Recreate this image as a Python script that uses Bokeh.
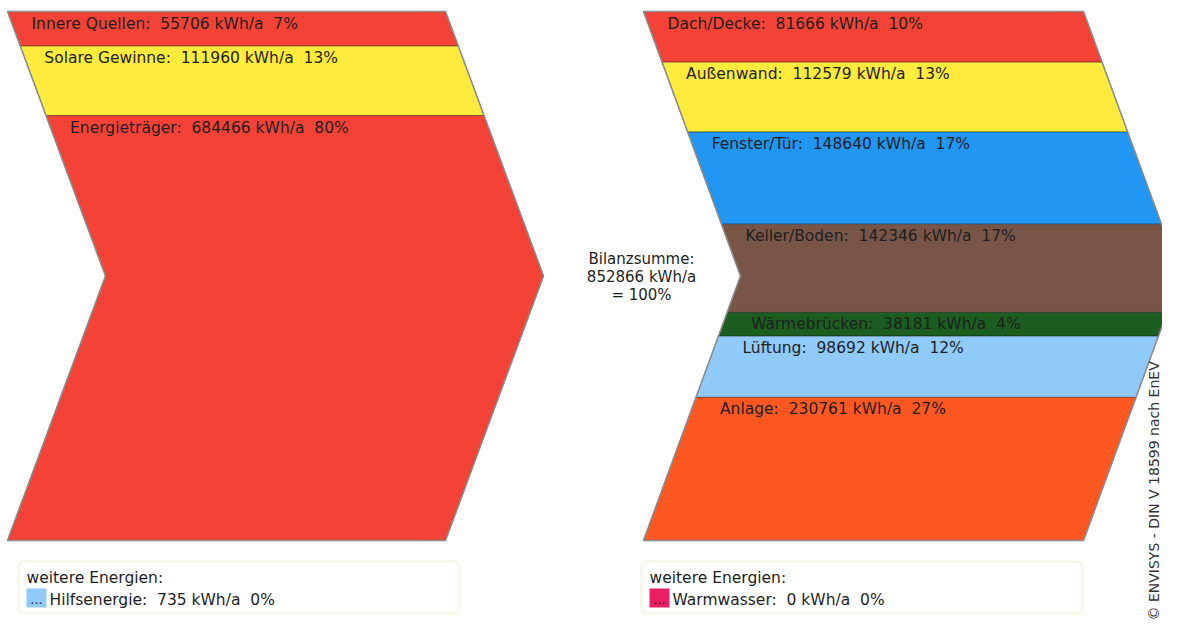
import math
from bokeh.plotting import figure
from bokeh.models import Range1d, BoxAnnotation
from bokeh.core.properties import value
from bokeh.embed import file_html
from bokeh.resources import INLINE

# ---------------- data ----------------
left_labels = ["Innere Quellen", "Solare Gewinne", "Energieträger"]
left_values = [55706, 111960, 684466]
left_pct = [7, 13, 80]
left_colors = ["#f44336", "#ffeb3b", "#f44336"]

right_labels = ["Dach/Decke", "Außenwand", "Fenster/Tür", "Keller/Boden",
                "Wärmebrücken", "Lüftung", "Anlage"]
right_values = [81666, 112579, 148640, 142346, 38181, 98692, 230761]
right_pct = [10, 13, 17, 17, 4, 12, 27]
right_colors = ["#f44336", "#ffeb3b", "#2196f3", "#795548",
                "#1b5e20", "#90caf9", "#ff5722"]

total_value = 852866
extra_left = ("Hilfsenergie", 735, 0, "#90caf9")
extra_right = ("Warmwasser", 0, 0, "#e91e63")
copyright_text = "© ENVISYS - DIN V 18599 nach EnEV"

# ---------------- layout (pixel-like coordinates) ----------------
TOP, BOT = 11, 540
MID = (TOP + BOT) / 2
HALF = (BOT - TOP) / 2
FONT = value("DejaVu Sans")
TXT = "#1e1e1e"
SP = " \u00a0"  # double space that survives SVG whitespace collapsing

p = figure(width=1162, height=623, output_backend="svg", toolbar_location=None,
           x_range=Range1d(0, 1162), y_range=Range1d(623, 0),
           min_border=0, background_fill_color="white", border_fill_color="white")
p.axis.visible = False
p.grid.visible = False
p.outline_line_color = None


def edge(L, D, y):
    return L + D * (1 - abs(y - MID) / HALF)


def draw_chevron(L, W, D, labels, values, pcts, colors):
    s = float(sum(values))
    xs_all, ys_all = [], []
    lx, ly, lt = [], [], []
    ya = TOP
    for lab, v, pc, c in zip(labels, values, pcts, colors):
        yb = ya + v / s * (BOT - TOP)
        ys = [ya] + ([MID] if ya < MID < yb else []) + [yb]
        xl = [edge(L, D, y) for y in ys]
        xr = [edge(L, D, y) + W for y in reversed(ys)]
        xs_all.append(xl + xr)
        ys_all.append(ys + list(reversed(ys)))
        lx.append(edge(L, D, ya) + 24)
        ly.append(ya + 3)
        lt.append(f"{lab}:{SP}{v} kWh/a{SP}{pc}%")
        ya = yb
    p.patches(xs_all, ys_all, fill_color=colors, line_color="#000000",
              line_alpha=0.35, line_width=1)
    oy = [TOP, MID, BOT, BOT, MID, TOP]
    ox = [edge(L, D, TOP), edge(L, D, MID), edge(L, D, BOT),
          edge(L, D, BOT) + W, edge(L, D, MID) + W, edge(L, D, TOP) + W]
    p.patch(ox, oy, fill_color=None, line_color="#8c8c8c", line_width=1.5)
    p.text(x=lx, y=ly, text=lt, text_font=FONT, text_font_size="15.5px",
           text_color=TXT, text_baseline="top", text_align="left")


draw_chevron(7, 438, 98, left_labels, left_values, left_pct, left_colors)
draw_chevron(643, 440, 97, right_labels, right_values, right_pct, right_colors)

# Bilanzsumme
p.text(x=[641, 641, 641], y=[258, 276, 294],
       text=["Bilanzsumme:", f"{total_value} kWh/a", "= 100%"],
       text_font=FONT, text_font_size="15px", text_color=TXT,
       text_align="center", text_baseline="middle")


def legend_box(x0, x1, item):
    name, v, pc, col = item
    box = BoxAnnotation(left=x0, right=x1, top=561, bottom=613,
                        fill_color="white", fill_alpha=1.0,
                        line_color="#dfe9b4", line_width=2.5, border_radius=6,
                        level="underlay")
    p.add_layout(box)
    p.text(x=[x0 + 8], y=[577], text=["weitere Energien:"], text_font=FONT,
           text_font_size="15.5px", text_color=TXT, text_baseline="middle")
    p.quad(left=[x0 + 8], right=[x0 + 28], top=[588], bottom=[607],
           fill_color=col, line_color=None)
    p.text(x=[x0 + 18], y=[599], text=["..."], text_font=FONT,
           text_font_size="13px", text_color=TXT, text_align="center",
           text_baseline="middle")
    p.text(x=[x0 + 31], y=[599], text=[f"{name}:{SP}{v} kWh/a{SP}{pc}%"],
           text_font=FONT, text_font_size="15.5px", text_color=TXT,
           text_baseline="middle")


legend_box(18, 459, extra_left)
legend_box(641, 1082, extra_right)

p.text(x=[1153], y=[620], text=[copyright_text], angle=math.pi / 2,
       text_font=FONT, text_font_size="14px", text_color="#333333",
       text_align="left", text_baseline="middle")

open("out.html", "w").write(file_html(p, INLINE))
